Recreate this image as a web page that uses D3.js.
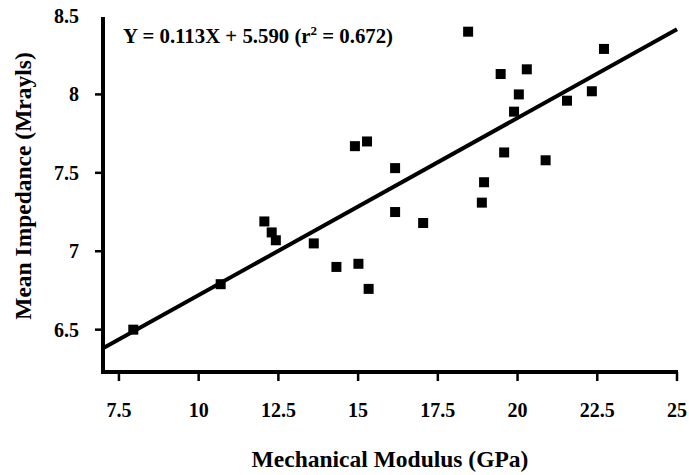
<!DOCTYPE html>
<html>
<head>
<meta charset="utf-8">
<script src="https://cdn.jsdelivr.net/npm/d3@7"></script>
<style>
  body { margin: 0; background: #fff; }
  text { font-family: "Liberation Serif", "Times New Roman", serif; font-weight: bold; fill: #000; }
</style>
</head>
<body>
<div id="chart"></div>
<script>
// Data
const modulus = [7.95, 10.69, 12.06, 12.29, 12.42, 13.61, 14.32, 15.01, 15.33, 14.90, 15.28, 16.16, 16.16,
  17.04, 18.45, 18.88, 18.95, 19.47, 19.58, 19.89, 20.04, 20.29, 20.88, 21.55, 22.33, 22.71];
const impedance = [6.50, 6.79, 7.19, 7.12, 7.07, 7.05, 6.90, 6.92, 6.76, 7.67, 7.70, 7.53, 7.25,
  7.18, 8.40, 7.31, 7.44, 8.13, 7.63, 7.89, 8.00, 8.16, 7.58, 7.96, 8.02, 8.29];
const xTicks = [7.5, 10, 12.5, 15, 17.5, 20, 22.5, 25];
const yTicks = [6.5, 7, 7.5, 8, 8.5];
const fitSlope = 0.113;
const fitIntercept = 5.590;
const fitLabel = "Y = 0.113X + 5.590 (r";
const fitLabelEnd = " = 0.672)";

const width = 689;
const height = 475;

const svg = d3.select("#chart")
  .append("svg")
  .attr("width", width)
  .attr("height", height);

const xScale = d3.scaleLinear().domain([7, 25]).range([103, 677]);
const yScale = d3.scaleLinear().domain([6.23, 8.5]).range([372, 16]);

// y axis
const yAxis = svg.append("g").attr("transform", "translate(103,0)");
yAxis.append("line")
  .attr("x1", 0).attr("x2", 0)
  .attr("y1", 17).attr("y2", 374)
  .attr("stroke", "#000").attr("stroke-width", 4);
yAxis.selectAll(".tick")
  .data(yTicks.filter((d) => d < 8.5))
  .join("line")
  .attr("x1", -8).attr("x2", 0)
  .attr("y1", (d) => yScale(d)).attr("y2", (d) => yScale(d))
  .attr("stroke", "#000").attr("stroke-width", 2.5);
yAxis.selectAll("text")
  .data(yTicks)
  .join("text")
  .attr("x", -24)
  .attr("y", (d) => yScale(d))
  .attr("dy", "0.35em")
  .attr("text-anchor", "end")
  .style("font-size", "20px")
  .text((d) => d);

// x axis
const xAxis = svg.append("g").attr("transform", "translate(0,372)");
xAxis.append("line")
  .attr("x1", 101).attr("x2", 678)
  .attr("y1", 0).attr("y2", 0)
  .attr("stroke", "#000").attr("stroke-width", 4);
xAxis.selectAll(".tick")
  .data(xTicks)
  .join("line")
  .attr("x1", (d) => xScale(d)).attr("x2", (d) => xScale(d))
  .attr("y1", 0).attr("y2", 9)
  .attr("stroke", "#000").attr("stroke-width", 2.5);
xAxis.selectAll("text")
  .data(xTicks)
  .join("text")
  .attr("x", (d) => xScale(d))
  .attr("y", 45)
  .attr("text-anchor", "middle")
  .style("font-size", "20px")
  .text((d) => d);

// axis titles
svg.append("text")
  .attr("x", 390)
  .attr("y", 467)
  .attr("text-anchor", "middle")
  .style("font-size", "23.5px")
  .text("Mechanical Modulus (GPa)");

svg.append("text")
  .attr("transform", "translate(31,186) rotate(-90)")
  .attr("text-anchor", "middle")
  .style("font-size", "23.5px")
  .text("Mean Impedance (Mrayls)");

// regression line
const fitLine = d3.line()
  .x((d) => xScale(d))
  .y((d) => yScale(fitSlope * d + fitIntercept));
svg.append("path")
  .datum(xScale.domain())
  .attr("fill", "none")
  .attr("stroke", "#000")
  .attr("stroke-width", 4)
  .attr("d", fitLine);

// points
const points = modulus.map((m, i) => ({ x: m, y: impedance[i] }));
svg.selectAll(".pt")
  .data(points)
  .join("rect")
  .attr("class", "pt")
  .attr("x", (d) => xScale(d.x) - 5)
  .attr("y", (d) => yScale(d.y) - 5)
  .attr("width", 10)
  .attr("height", 10)
  .attr("fill", "#000");

// equation label
const eq = svg.append("text")
  .attr("x", 123)
  .attr("y", 43)
  .style("font-size", "20.8px");
eq.append("tspan").text(fitLabel);
eq.append("tspan").attr("dy", -8).style("font-size", "13px").text("2");
eq.append("tspan").attr("dy", 8).text(fitLabelEnd);
</script>
</body>
</html>
